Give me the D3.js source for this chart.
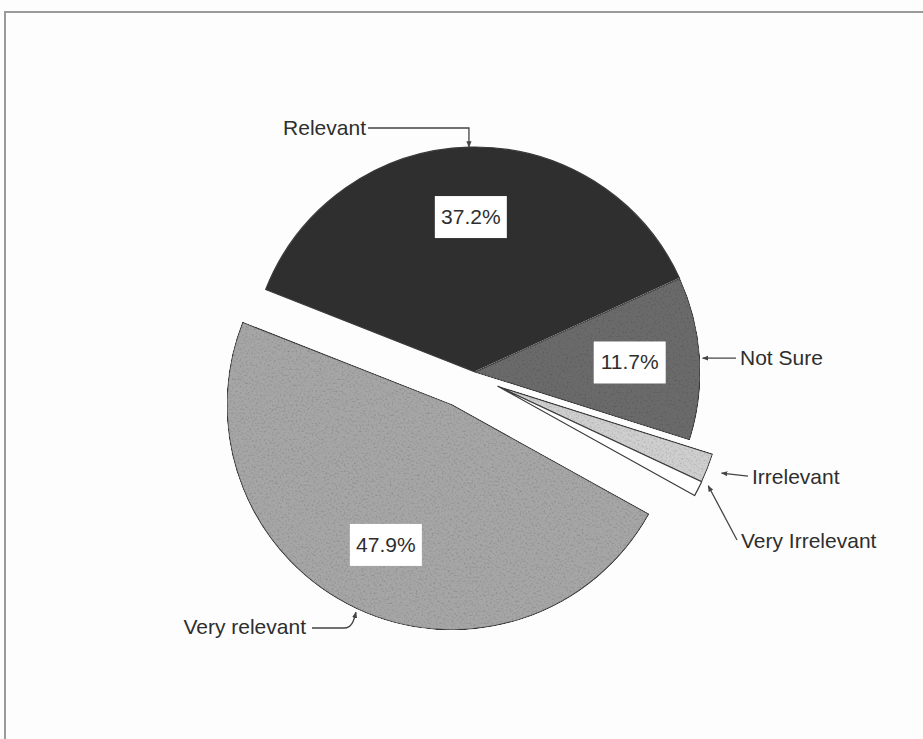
<!DOCTYPE html>
<html>
<head>
<meta charset="utf-8">
<script src="https://cdn.jsdelivr.net/npm/d3@7/dist/d3.min.js"></script>
<style>
  html, body { margin: 0; padding: 0; background: #fdfdfd; }
  svg { display: block; }
  text { font-family: "Liberation Sans", Arial, sans-serif; fill: #2e2e2e; }
</style>
</head>
<body>
<svg id="chart" width="923" height="739"></svg>
<script>
// ---- data ----
const categories = ["Relevant", "Not Sure", "Irrelevant", "Very Irrelevant", "Very relevant"];
const values = [37.2, 11.7, 2.1, 1.1, 47.9];
const valueLabels = ["37.2%", "11.7%", "", "", "47.9%"];

// ---- styles / layout ----
const fills = ["#2f2f2f", "#6b6b6b", "#cfcfcf", "#ffffff", "#a6a6a6"];
const grain = [false, true, true, false, true];
const explodeDist = [0, 0, 27, 27, 40];
const explodeAngleDeg = [0, 0, 122, 122, 215];
const cx = 475, cy = 372, R = 225;
const startDeg = 291.5;
const fontSize = 21;

const svg = d3.select("#chart");
const defs = svg.append("defs");

const f = defs.append("filter").attr("id", "grain").attr("x", "0").attr("y", "0").attr("width", "1").attr("height", "1");
f.append("feTurbulence").attr("type", "fractalNoise").attr("baseFrequency", "0.5").attr("numOctaves", 2).attr("seed", 7).attr("result", "n");
f.append("feColorMatrix").attr("in", "n").attr("type", "matrix")
  .attr("values", "0.8 0 0 0 0.58  0.8 0 0 0 0.58  0.8 0 0 0 0.58  0 0 0 0 1").attr("result", "n2");
f.append("feBlend").attr("in", "SourceGraphic").attr("in2", "n2").attr("mode", "multiply").attr("result", "b");
f.append("feComposite").attr("in", "b").attr("in2", "SourceGraphic").attr("operator", "in");

const mk = defs.append("marker").attr("id", "arrow").attr("viewBox", "0 0 10 10")
  .attr("refX", 9).attr("refY", 5).attr("markerWidth", 5).attr("markerHeight", 5).attr("orient", "auto-start-reverse");
mk.append("path").attr("d", "M0,1 L10,5 L0,9 z").attr("fill", "#444");

// frame
svg.append("path").attr("d", "M5,739 L5,12 L923,12").attr("fill", "none").attr("stroke", "#9a9a9a").attr("stroke-width", 2);

const rad = d => d * Math.PI / 180;
const pie = d3.pie().sort(null).value(d => d.v)
  .startAngle(rad(startDeg)).endAngle(rad(startDeg) + 2 * Math.PI);
const data = categories.map((c, i) => ({ c, v: values[i], i }));
const arcs = pie(data);
const arc = d3.arc().innerRadius(0).outerRadius(R);

function offset(i) {
  const a = rad(explodeAngleDeg[i]);
  return [explodeDist[i] * Math.sin(a), -explodeDist[i] * Math.cos(a)];
}
function onArc(d, r, frac) {
  const a = d.startAngle + (d.endAngle - d.startAngle) * (frac === undefined ? 0.5 : frac);
  const o = offset(d.data.i);
  return [cx + o[0] + r * Math.sin(a), cy + o[1] - r * Math.cos(a)];
}

const g = svg.append("g");
arcs.forEach(d => {
  const o = offset(d.data.i);
  g.append("path")
    .attr("transform", `translate(${cx + o[0]},${cy + o[1]})`)
    .attr("d", arc(d))
    .attr("fill", fills[d.data.i])
    .attr("filter", grain[d.data.i] ? "url(#grain)" : null)
    .attr("stroke", "#3a3a3a")
    .attr("stroke-width", 1.2)
    .attr("stroke-linejoin", "round");
});

// value boxes
arcs.forEach(d => {
  const lab = valueLabels[d.data.i];
  if (!lab) return;
  const [x, y] = onArc(d, 155);
  g.append("rect").attr("x", x - 36).attr("y", y - 21).attr("width", 72).attr("height", 42).attr("fill", "#ffffff");
  g.append("text").attr("x", x).attr("y", y + 7).attr("text-anchor", "middle")
    .attr("font-size", fontSize).text(lab);
});

// category labels with leader lines
const labelLayout = {
  "Relevant":        { tx: 366, ty: 135, anchor: "end",   path: (p) => `M${p[0]},${p[1]} L${p[0]},128 L368,128` },
  "Not Sure":        { tx: 740, ty: 365, anchor: "start", path: (p) => `M${p[0] + 3},${p[1]} L736,${p[1]}` },
  "Irrelevant":      { tx: 752, ty: 484, anchor: "start", path: (p) => `M${p[0] + 14},${p[1] + 5} L748,${p[1] + 8}` },
  "Very Irrelevant": { tx: 741, ty: 548, anchor: "start", path: (p) => `M${p[0] + 10},${p[1] - 3} L737,540` },
  "Very relevant":   { tx: 306, ty: 634, anchor: "end",   path: (p) => `M${p[0]},${p[1] + 4} C${p[0] - 2},${p[1] + 12} ${p[0] - 4},628 ${p[0] - 12},628 L312,628` }
};
arcs.forEach(d => {
  const L = labelLayout[d.data.c];
  const p = onArc(d, R);
  svg.append("path").attr("d", L.path(p)).attr("fill", "none").attr("stroke", "#444").attr("stroke-width", 1.3)
    .attr("marker-start", "url(#arrow)");
  svg.append("text").attr("x", L.tx).attr("y", L.ty).attr("text-anchor", L.anchor)
    .attr("font-size", fontSize).text(d.data.c);
});
</script>
</body>
</html>
